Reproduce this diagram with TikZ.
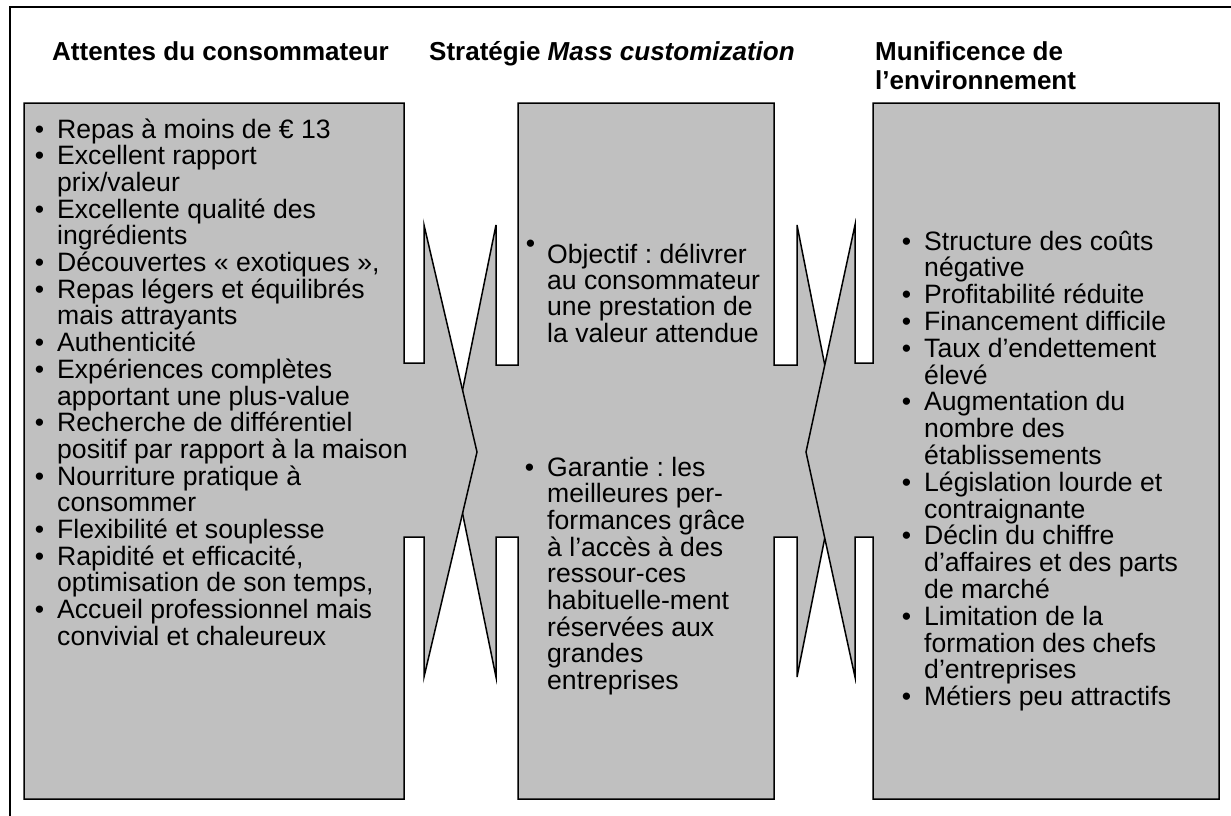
\documentclass[tikz,border=0pt]{standalone}
\usepackage{fontspec}
\setmainfont{Liberation Sans}
\frenchspacing
\definecolor{boxgray}{RGB}{192,192,192}
\tikzset{
  bloc/.style={draw=black, fill=boxgray, line width=1.5pt, line join=miter},
  titre/.style={font=\fontsize{26}{28}\selectfont\bfseries, anchor=base west, inner sep=0pt},
  ligne/.style={font=\fontsize{26.6}{26.7}\selectfont, anchor=base west, inner sep=0pt}
}
\newcommand{\puce}{\llap{\textbullet\hspace{13pt}}}
\newcommand{\pucehaut}{\llap{\raisebox{11pt}{\textbullet}\hspace{12pt}}}
\begin{document}
\begin{tikzpicture}[x=1pt, y=-1pt]

        \useasboundingbox (0,0) rectangle (1231,816);
        \clip (0,0) rectangle (1231,816);

        % Draw the outer frame (cut by the page)
        \draw[line width=1.5pt] (10,840) -- (10,7) -- (1260,7);

        % Draw the middle box first, with its two arrows
        \draw[bloc] (518,103) -- (774,103) -- (774,365) -- (797,365) -- (797,225) -- (842,452)
              -- (797,677) -- (797,537) -- (774,537) -- (774,799) -- (518,799) -- (518,537)
              -- (496,537) -- (496,677) -- (450,452) -- (496,225) -- (496,365) -- (518,365) -- cycle;

        % Draw the left box, arrow to the right
        \draw[bloc] (24,103) -- (404,103) -- (404,363) -- (424,363) -- (424,225) -- (477,452)
              -- (424,677) -- (424,537) -- (404,537) -- (404,799) -- (24,799) -- cycle;

        % Draw the right box, arrow to the left
        \draw[bloc] (873,103) -- (1219,103) -- (1219,799) -- (873,799) -- (873,537) -- (855,537)
              -- (855,677) -- (806,452) -- (855,225) -- (855,363) -- (873,363) -- cycle;

        % Column titles
        \node[titre] (t1) at (52,61) {Attentes du consommateur};
        \node[titre] (t2) at (429,61) {Stratégie \textit{Mass customization}};
        \node[titre] (t3) at (875,61) {Munificence de};
        \node[titre] (t4) at (875,89) {l’environnement};

        % Consumer expectations
        \foreach \txt [count=\i] in {{\puce Repas à moins de € 13}, {\puce Excellent rapport},
              {prix/valeur}, {\puce Excellente qualité des}, {ingrédients},
              {\puce Découvertes «~exotiques~»,}, {\puce Repas légers et équilibrés},
              {mais attrayants}, {\puce Authenticité}, {\puce Expériences complètes},
              {apportant une plus-value}, {\puce Recherche de différentiel},
              {positif par rapport à la maison}, {\puce Nourriture pratique à}, {consommer},
              {\puce Flexibilité et souplesse}, {\puce Rapidité et efficacité,},
              {optimisation de son temps,}, {\puce Accueil professionnel mais},
              {convivial et chaleureux}}
          \node[ligne] (a\i) at (57,{138+26.7*(\i-1)}) {\txt};

        % Strategy
        \foreach \txt [count=\i] in {{\pucehaut Objectif : délivrer}, {au consommateur},
              {une prestation de}, {la valeur attendue}}
          \node[ligne] (s\i) at (547,{263+26.4*(\i-1)}) {\txt};
        \foreach \txt [count=\i] in {{\puce Garantie : les}, {meilleures per-},
              {formances grâce}, {à l’accès à des}, {ressour-ces}, {habituelle-ment},
              {réservées aux}, {grandes}, {entreprises}}
          \node[ligne] (g\i) at (547,{476+26.7*(\i-1)}) {\txt};

        % Environment
        \foreach \txt [count=\i] in {{\puce Structure des coûts}, {négative},
              {\puce Profitabilité réduite}, {\puce Financement difficile},
              {\puce Taux d’endettement}, {élevé}, {\puce Augmentation du}, {nombre des},
              {établissements}, {\puce Législation lourde et}, {contraignante},
              {\puce Déclin du chiffre}, {d’affaires et des parts}, {de marché},
              {\puce Limitation de la}, {formation des chefs}, {d’entreprises},
              {\puce Métiers peu attractifs}}
          \node[ligne] (e\i) at (924,{250+26.8*(\i-1)}) {\txt};

      \end{tikzpicture}
\end{document}
